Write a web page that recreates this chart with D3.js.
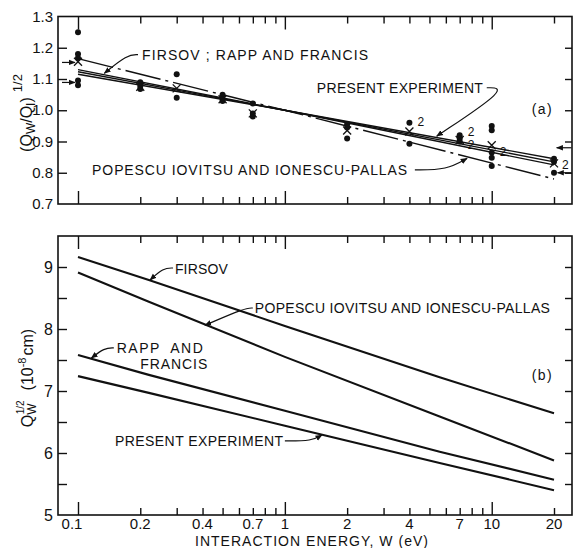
<!DOCTYPE html>
<html>
<head>
<meta charset="utf-8">
<script src="https://cdn.jsdelivr.net/npm/d3@7"></script>
<style>
body { margin: 0; background: #fff; }
text { font-family: "Liberation Sans", Arial, sans-serif; fill: #111; }
</style>
</head>
<body>
<svg id="chart" width="574" height="548"></svg>
<script>
// energies (eV) where the curves were read
var curveW = [0.1, 0.22, 1, 5.6, 20];
// panel (b): Q_W^1/2 in units of 1e-8 cm
var firsovB  = [9.16, 8.79, 8.05, 7.22, 6.64];
var popescuB = [8.91, 8.44, 7.55, 6.59, 5.88];
var rappB    = [7.58, 7.26, 6.68, 6.02, 5.57];
var presentB = [7.24, 6.97, 6.44, 5.84, 5.40];

// panel (a): (Q_W/Q_1)^1/2
var lineAW    = [0.1, 1, 20];
var popescuA  = [1.165, 1.0, 0.78];
var firsovA   = [1.13, 1.0, 0.825];
var rappA     = [1.123, 1.0, 0.835];
var presentA  = [1.115, 1.0, 0.845];

// measured points, panel (a)
var dotsA = [
	[0.1, 1.25], [0.1, 1.18], [0.1, 1.167], [0.1, 1.095], [0.1, 1.08],
	[0.2, 1.09], [0.2, 1.078], [0.2, 1.068],
	[0.3, 1.115], [0.3, 1.04],
	[0.5, 1.05], [0.5, 1.036], [0.5, 1.03],
	[0.7, 1.022], [0.7, 0.99], [0.7, 0.98],
	[2, 0.955], [2, 0.945], [2, 0.91],
	[4, 0.96], [4, 0.893],
	[7, 0.92], [7, 0.91], [7, 0.9],
	[10, 0.95], [10, 0.936], [10, 0.865], [10, 0.848], [10, 0.822],
	[20, 0.845], [20, 0.835], [20, 0.8]
];
var crossesA = [[0.1, 1.155], [0.2, 1.075], [0.3, 1.07], [0.5, 1.035], [0.7, 0.99],
	[2, 0.935], [4, 0.932], [7, 0.905], [10, 0.888], [20, 0.83]];
var twosA = [[4, 0.962], [7, 0.932], [7, 0.889], [10, 0.867], [20, 0.825]];

// axis ticks
var xMajor = [0.1, 1, 10];
var xMinor = [0.2, 0.3, 0.4, 0.5, 0.6, 0.7, 0.8, 0.9, 2, 3, 4, 5, 6, 7, 8, 9, 20];
var xLabels = [0.1, 0.2, 0.4, 0.7, 1, 2, 4, 7, 10, 20];
var yTicksA = [0.8, 0.9, 1.0, 1.1, 1.2];
var yLabelsA = [0.7, 0.8, 0.9, 1.0, 1.1, 1.2, 1.3];
var yTicksB = [5.5, 6, 6.5, 7, 7.5, 8, 8.5, 9];
var yLabelsB = [5, 6, 7, 8, 9];

var svg = d3.select("#chart");
var frameL = 58, frameR = 572;
var x = d3.scaleLog().domain([0.1, 20]).range([78, 554]);
var yA = d3.scaleLinear().domain([0.7, 1.3]).range([204, 16.5]);
var yB = d3.scaleLinear().domain([5, 9.5]).range([515, 236]);

svg.append("defs").append("marker")
	.attr("id", "head").attr("viewBox", "0 0 10 10")
	.attr("refX", 9).attr("refY", 5)
	.attr("markerWidth", 7).attr("markerHeight", 7)
	.attr("markerUnits", "userSpaceOnUse")
	.attr("orient", "auto")
	.append("path").attr("d", "M0,1L10,5L0,9Z").attr("fill", "#111");

function frame(y, yTicks) {
	var top = y.range()[1], bot = y.range()[0];
	var g = svg.append("g");
	g.append("rect").attr("x", frameL).attr("y", top)
		.attr("width", frameR - frameL).attr("height", bot - top)
		.attr("fill", "none").attr("stroke", "#111").attr("stroke-width", 1.6);
	[[xMajor, 13], [xMinor, 7]].forEach(function(t) {
		g.append("g").attr("transform", "translate(0," + bot + ")")
			.call(d3.axisBottom(x).tickValues(t[0]).tickSize(-t[1]).tickFormat(""));
		g.append("g").attr("transform", "translate(0," + top + ")")
			.call(d3.axisTop(x).tickValues(t[0]).tickSize(-t[1]).tickFormat(""));
	});
	g.append("g").attr("transform", "translate(" + frameL + ",0)")
		.call(d3.axisLeft(y).tickValues(yTicks).tickSize(-9).tickFormat(""));
	g.append("g").attr("transform", "translate(" + frameR + ",0)")
		.call(d3.axisRight(y).tickValues(yTicks).tickSize(-7).tickFormat(""));
	g.selectAll(".domain").remove();
	g.selectAll(".tick line").attr("stroke", "#111").attr("stroke-width", 1.4);
	return g;
}

frame(yA, yTicksA);
frame(yB, yTicksB);

// tick labels
svg.append("g").selectAll("text").data(yLabelsA).enter().append("text")
	.attr("x", 53).attr("y", function(d) { return yA(d) + 5; })
	.attr("text-anchor", "end").style("font-size", "15px")
	.text(function(d) { return d3.format(".1f")(d); });
svg.append("g").selectAll("text").data(yLabelsB).enter().append("text")
	.attr("x", 53).attr("y", function(d) { return yB(d) + 6; })
	.attr("text-anchor", "end").style("font-size", "16px")
	.text(function(d) { return d; });
svg.append("g").selectAll("text").data(xLabels).enter().append("text")
	.attr("x", function(d) { return x(d) - (d == 0.1 ? 6 : 0); }).attr("y", 529)
	.attr("text-anchor", "middle").style("font-size", "15px")
	.text(function(d) { return d; });
svg.append("text").attr("x", 195).attr("y", 546)
	.attr("textLength", 233).attr("lengthAdjust", "spacing")
	.style("font-size", "14px").text("INTERACTION ENERGY, W (eV)");

// y axis titles
var ta = svg.append("text").attr("transform", "translate(32,113) rotate(-90)")
	.attr("text-anchor", "middle").style("font-size", "16px");
ta.append("tspan").text("(Q");
ta.append("tspan").attr("dy", 3).style("font-size", "12px").text("W");
ta.append("tspan").attr("dy", -3).text("/Q");
ta.append("tspan").attr("dy", 3).style("font-size", "12px").text("I");
ta.append("tspan").attr("dy", -3).text(")");
ta.append("tspan").attr("dx", 5).attr("dy", -10).style("font-size", "13px").text("1/2");

var tb = svg.append("text").attr("transform", "translate(33,378) rotate(-90)")
	.attr("text-anchor", "middle").style("font-size", "16px");
tb.append("tspan").text("Q");
tb.append("tspan").attr("dy", 3).style("font-size", "12px").text("W");
tb.append("tspan").attr("dx", -11).attr("dy", -12).style("font-size", "10px").text("1/2");
tb.append("tspan").attr("dx", 10).attr("dy", 9).text("(10");
tb.append("tspan").attr("dy", -7).style("font-size", "11px").text("-8");
tb.append("tspan").attr("dx", 2).attr("dy", 7).text("cm)");

// panel (b) curves
var lineB = d3.line()
	.x(function(d) { return x(d[0]); }).y(function(d) { return yB(d[1]); });
[firsovB, popescuB, rappB, presentB].forEach(function(s) {
	svg.append("path").datum(curveW.map(function(w, i) { return [w, s[i]]; }))
		.attr("d", lineB).attr("fill", "none")
		.attr("stroke", "#111").attr("stroke-width", 2.1)
		.attr("stroke-linejoin", "round");
});

// panel (a) curves
var lineA = d3.line()
	.x(function(d) { return x(d[0]); }).y(function(d) { return yA(d[1]); });
[[firsovA, null], [rappA, null], [presentA, null], [popescuA, "36,5,3,5"]].forEach(function(s) {
	svg.append("path").datum(lineAW.map(function(w, i) { return [w, s[0][i]]; }))
		.attr("d", lineA).attr("fill", "none")
		.attr("stroke", "#111").attr("stroke-width", 1.4)
		.attr("stroke-dasharray", s[1]);
});

// panel (a) data
svg.append("g").selectAll("circle").data(dotsA).enter().append("circle")
	.attr("cx", function(d) { return x(d[0]); })
	.attr("cy", function(d) { return yA(d[1]); })
	.attr("r", 3).attr("fill", "#111");
svg.append("g").selectAll("path").data(crossesA).enter().append("path")
	.attr("transform", function(d) { return "translate(" + x(d[0]) + "," + yA(d[1]) + ")"; })
	.attr("d", "M-4,-4L4,4M-4,4L4,-4")
	.attr("stroke", "#111").attr("stroke-width", 1.3);
svg.append("g").selectAll("text").data(twosA).enter().append("text")
	.attr("x", function(d) { return x(d[0]) + 8; })
	.attr("y", function(d) { return yA(d[1]) + 4; })
	.style("font-size", "12px").text("2");

// annotations: text [w, value, label, width], leaders as [w, value] points
var notesA = [
	[0.204, 1.162, "FIRSOV ; RAPP AND FRANCIS", 226],
	[1.428, 1.056, "PRESENT EXPERIMENT", 166],
	[0.117, 0.793, "POPESCU IOVITSU AND IONESCU-PALLAS", 315],
	[15.6, 0.989, "(a)", 20]
];
var leadersA = [
	[[0.195, 1.178], [0.173, 1.178], [0.134, 1.118]],
	[[9.46, 1.072], [12.2, 1.072], [5.42, 0.917]],
	[[4.25, 0.809], [6.07, 0.809], [7.6, 0.846]],
	[[0.0837, 1.153], [0.0967, 1.153]],
	[[0.0837, 1.089], [0.0967, 1.089]],
	[[24.3, 0.88], [20.6, 0.88]],
	[[24.3, 0.80], [20.8, 0.80]]
];
var notesB = [
	[0.294, 8.887, "FIRSOV", 53],
	[0.716, 8.258, "POPESCU IOVITSU AND IONESCU-PALLAS", 295],
	[0.154, 7.613, "RAPP  AND", 86],
	[0.2, 7.355, "FRANCIS", 67],
	[0.151, 6.113, "PRESENT EXPERIMENT", 168],
	[15.6, 7.18, "(b)", 20]
];
var leadersB = [
	[[0.288, 8.984], [0.258, 8.984], [0.223, 8.79]],
	[[0.70, 8.339], [0.641, 8.339], [0.411, 8.06]],
	[[0.149, 7.694], [0.134, 7.694], [0.116, 7.53]],
	[[1.0, 6.194], [1.35, 6.194], [1.51, 6.29]]
];

function notes(list, y) {
	svg.append("g").selectAll("text").data(list).enter().append("text")
		.attr("x", function(d) { return x(d[0]); })
		.attr("y", function(d) { return y(d[1]); })
		.attr("textLength", function(d) { return d[3]; })
		.attr("lengthAdjust", "spacing")
		.style("font-size", "14px").style("white-space", "pre")
		.text(function(d) { return d[2]; });
}
function leaders(list, y) {
	var ln = d3.line().curve(d3.curveBasis)
		.x(function(d) { return x(d[0]); }).y(function(d) { return y(d[1]); });
	svg.append("g").selectAll("path").data(list).enter().append("path")
		.attr("d", ln).attr("fill", "none")
		.attr("stroke", "#111").attr("stroke-width", 1.2)
		.attr("marker-end", "url(#head)");
}
notes(notesA, yA);
leaders(leadersA, yA);
notes(notesB, yB);
leaders(leadersB, yB);
</script>
</body>
</html>
